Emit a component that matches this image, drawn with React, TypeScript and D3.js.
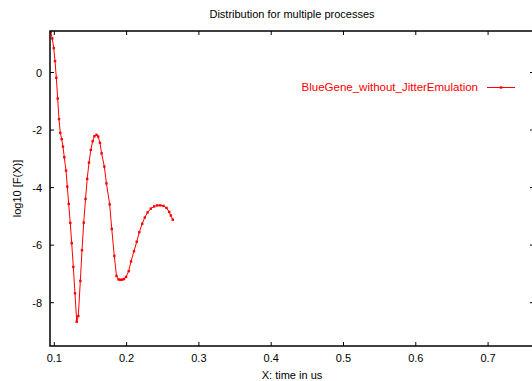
import { useEffect, useRef } from 'react';
import * as d3 from 'd3';

// sample times (us) and log10 F(X) values
const times = [
  0.095, 0.0972, 0.0992, 0.101, 0.1028, 0.1047, 0.1065, 0.1083, 0.1102, 0.112,
  0.1138, 0.1162, 0.118, 0.1199, 0.1221, 0.1241, 0.1263, 0.1286, 0.131, 0.1332,
  0.136, 0.1383, 0.1407, 0.1432, 0.1455, 0.148, 0.1505, 0.1531, 0.1556, 0.1584,
  0.1607, 0.1632, 0.1654, 0.1692, 0.1721, 0.1766, 0.1795, 0.183, 0.186, 0.1888,
  0.1913, 0.1939, 0.1964, 0.1992, 0.2029, 0.2061, 0.2102, 0.214, 0.2176, 0.2216,
  0.2252, 0.229, 0.2335, 0.2382, 0.2425, 0.2466, 0.251, 0.2552, 0.2589, 0.2612, 0.2639,
];
const logF = [
  1.405, 1.183, 0.849, 0.397, -0.184, -0.904, -1.621, -2.097, -2.317, -2.574,
  -2.943, -3.409, -3.965, -4.567, -5.228, -5.934, -6.758, -7.673, -8.661, -8.463,
  -7.245, -6.177, -5.217, -4.393, -3.697, -3.13, -2.689, -2.386, -2.212, -2.167,
  -2.226, -2.445, -2.81, -3.27, -3.854, -4.584, -5.437, -6.376, -7.071, -7.193,
  -7.2, -7.2, -7.176, -7.106, -6.904, -6.567, -6.212, -5.882, -5.551, -5.256,
  -5.037, -4.863, -4.73, -4.654, -4.619, -4.619, -4.637, -4.706, -4.845, -4.97, -5.117,
];
const xTicks = [0.1, 0.2, 0.3, 0.4, 0.5, 0.6, 0.7];
const yTicks = [0, -2, -4, -6, -8];
const seriesName = 'BlueGene_without_JitterEmulation';

export default function App() {
  const svgRef = useRef<SVGSVGElement>(null);

  useEffect(() => {
    if (!svgRef.current) return;
    const width = 532;
    const height = 381;
    const left = 50, right = 534, top = 31, bottom = 346;
    const font = "'Liberation Sans', Arial, sans-serif";

    const svg = d3.select(svgRef.current);
    svg.selectAll('*').remove();

    const x = d3.scaleLinear().domain([0.09405, 0.7635]).range([left, right]);
    const y = d3.scaleLinear().domain([-9.506, 1.443]).range([bottom, top]);

    const pts = times.map((t, i) => [t, logF[i]] as [number, number]);

    // clip for the curve
    svg.append('defs').append('clipPath').attr('id', 'plotclip')
      .append('rect').attr('x', left).attr('y', top)
      .attr('width', right - left).attr('height', bottom - top);

    const line = d3.line<[number, number]>().x((d) => x(d[0])).y((d) => y(d[1]));
    const g = svg.append('g').attr('clip-path', 'url(#plotclip)');
    g.append('path').datum(pts).attr('d', line)
      .attr('fill', 'none').attr('stroke', '#ff0000').attr('stroke-width', 1);
    g.selectAll('rect.pt').data(pts).enter().append('rect')
      .attr('class', 'pt')
      .attr('x', (d) => x(d[0]) - 1.2).attr('y', (d) => y(d[1]) - 1.2)
      .attr('width', 2.4).attr('height', 2.4).attr('fill', '#ff0000');

    // ticks (inward, mirrored)
    const tk = svg.append('g').attr('stroke', '#000').attr('stroke-width', 1);
    xTicks.forEach((v) => {
      tk.append('line').attr('x1', x(v)).attr('x2', x(v)).attr('y1', bottom).attr('y2', bottom - 4);
      tk.append('line').attr('x1', x(v)).attr('x2', x(v)).attr('y1', top).attr('y2', top + 4);
    });
    yTicks.forEach((v) => {
      tk.append('line').attr('x1', left).attr('x2', left + 4).attr('y1', y(v)).attr('y2', y(v));
      tk.append('line').attr('x1', right).attr('x2', right - 4).attr('y1', y(v)).attr('y2', y(v));
    });

    // border
    svg.append('rect').attr('x', left).attr('y', top)
      .attr('width', right - left).attr('height', bottom - top)
      .attr('fill', 'none').attr('stroke', '#000').attr('stroke-width', 1.5);

    // tick labels
    svg.append('g').selectAll('text').data(xTicks).enter().append('text')
      .attr('x', (d) => x(d)).attr('y', bottom + 16)
      .attr('text-anchor', 'middle').style('font-family', font).style('font-size', '11px')
      .attr('fill', '#000').text((d) => d3.format('.1f')(d));
    svg.append('g').selectAll('text').data(yTicks).enter().append('text')
      .attr('x', left - 8).attr('y', (d) => y(d) + 4)
      .attr('text-anchor', 'end').style('font-family', font).style('font-size', '11px')
      .attr('fill', '#000').text((d) => String(d));

    // titles
    svg.append('text').attr('x', 292).attr('y', 18).attr('text-anchor', 'middle')
      .style('font-family', font).style('font-size', '11px').text('Distribution for multiple processes');
    svg.append('text').attr('x', 292).attr('y', 379).attr('text-anchor', 'middle')
      .style('font-family', font).style('font-size', '11px').text('X: time in us');
    svg.append('text').attr('transform', `translate(21,${(top + bottom) / 2}) rotate(-90)`)
      .attr('text-anchor', 'middle')
      .style('font-family', font).style('font-size', '11px').text('log10 [F(X)]');

    // legend
    svg.append('text').attr('x', 478).attr('y', 91).attr('text-anchor', 'end')
      .style('font-family', font).style('font-size', '11.5px').attr('fill', '#ff0000')
      .text(seriesName);
    svg.append('line').attr('x1', 487).attr('x2', 515).attr('y1', 87.5).attr('y2', 87.5)
      .attr('stroke', '#ff0000').attr('stroke-width', 1);
    svg.append('rect').attr('x', 499.8).attr('y', 86.3).attr('width', 2.4).attr('height', 2.4)
      .attr('fill', '#ff0000');

    svg.attr('width', width).attr('height', height);
  }, []);

  return (
    <svg
      ref={svgRef}
      width={532}
      height={381}
      style={{ position: 'absolute', left: 0, top: 0, background: '#fff' }}
    />
  );
}
